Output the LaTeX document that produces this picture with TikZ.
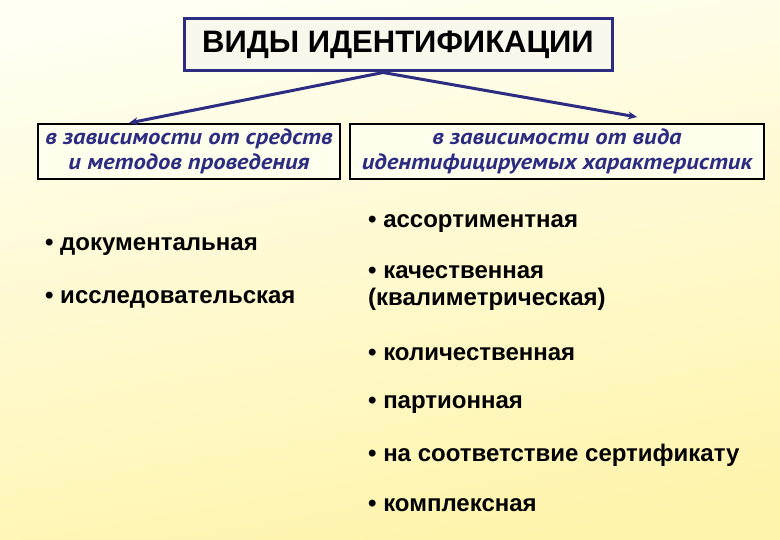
\documentclass[tikz,border=0pt]{standalone}
\usepackage{fontspec}
\setmainfont{Liberation Sans}
\newfontfamily\kindfont[FakeStretch=1.12]{PT Sans}
\usetikzlibrary{positioning,arrows.meta}
\definecolor{navy}{RGB}{44,44,130}
\definecolor{bgtop}{RGB}{255,255,242}
\definecolor{bgbot}{RGB}{255,244,172}
\definecolor{titlefill}{RGB}{248,248,236}
\definecolor{kindfill}{RGB}{255,255,238}

\begin{document}
\begin{tikzpicture}[x=1pt,y=-1pt,
  item/.style={anchor=west,inner sep=0pt,align=left,font=\bfseries\fontsize{24}{27}\selectfont},
  kind/.style={draw=black,line width=2pt,fill=kindfill,minimum height=55pt,inner sep=0pt,
    text=navy,align=center,font=\kindfont\bfseries\itshape\fontsize{22}{25}\selectfont},
  link/.style={navy,line width=3pt,-{Stealth[length=9pt,width=8pt]}}]
\shade[top color=bgtop,bottom color=bgbot,shading angle=10] (0,0) rectangle (780,540);
\useasboundingbox (0,0) rectangle (780,540);
%TOP
\node[draw=navy,line width=3pt,fill=titlefill,minimum width=428pt,minimum height=52pt,
  font=\bfseries\fontsize{31}{33}\selectfont] (title) at (398,45) {ВИДЫ ИДЕНТИФИКАЦИИ};
%KINDS
\node[kind,minimum width=302pt] (means) at (189,151.5) {в зависимости от средств\\и методов проведения};
\node[kind,minimum width=414pt] (traits) at (557,151.5) {в зависимости от вида\\идентифицируемых характеристик};
\draw[link] ([xshift=-15pt]title.south) -- ([xshift=92pt]means.north west);
\draw[link] ([xshift=-15pt]title.south) -- ([xshift=288pt,yshift=6pt]traits.north west);
%LEFT
\node[item] (doc) at (45,247) {• документальная};
\node[item] (res) at (45,299) {• исследовательская};
%RIGHT
\node[item] (assort) at (368,224) {• ассортиментная};
\node[item] (qual) at (368,288.5) {• качественная\\(квалиметрическая)};
\node[item] (quant) at (368,354) {• количественная};
\node[item] (batch) at (368,405) {• партионная};
\node[item] (cert) at (368,455) {• на соответствие сертификату};
\node[item] (compl) at (368,505) {• комплексная};
\end{tikzpicture}
\end{document}
